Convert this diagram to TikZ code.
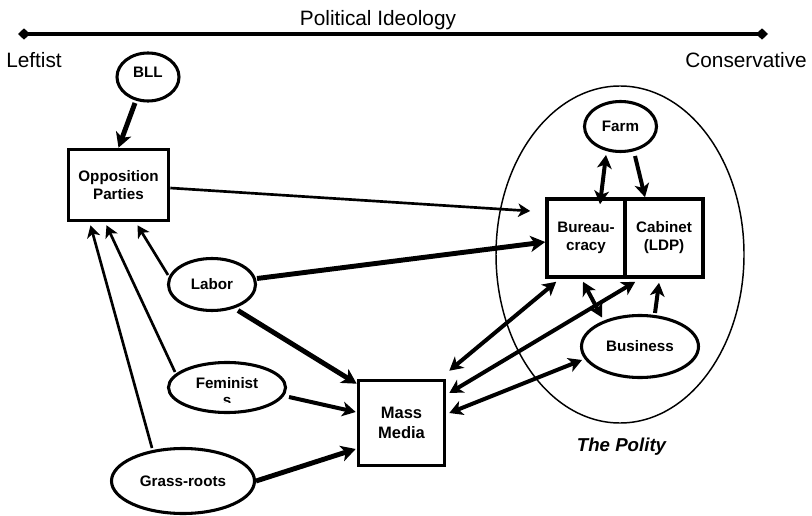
\documentclass[tikz,border=0pt]{standalone}
\usepackage{fontspec}
\setmainfont{Liberation Sans}
\usetikzlibrary{arrows.meta,shapes.geometric,calc}
\begin{document}
\begin{tikzpicture}[x=0.75pt,y=-0.75pt,
  ell/.style={draw,ellipse,line width=2.3pt,inner sep=0pt,font=\bfseries\fontsize{11.4}{13}\selectfont},
  box/.style={draw,rectangle,line width=2.7pt,inner sep=0pt,align=center,font=\bfseries\fontsize{11.4}{13.5}\selectfont},
  lab/.style={inner sep=0pt,font=\bfseries\fontsize{11.4}{13}\selectfont},
  toplab/.style={inner sep=0pt,font=\fontsize{15.6}{18}\selectfont},
  thickarr/.style={line width=3.7pt,-{Stealth[length=11pt,width=12pt,inset=3pt]}},
  thinarr/.style={line width=2pt,-{Stealth[length=9pt,width=10pt,inset=2.5pt]}},
  medarr/.style={line width=3pt,-{Stealth[length=10pt,width=11pt,inset=2.8pt]}},
  dblarr/.style={line width=3pt,{Stealth[length=10pt,width=11pt,inset=2.8pt]}-{Stealth[length=10pt,width=11pt,inset=2.8pt]}}
]
\path[use as bounding box] (0,0) rectangle (812,516);

% ideology axis
\coordinate (ideoL) at (18,34);
\coordinate (ideoR) at (768,34);
\draw[line width=2.3pt,{Diamond[length=9pt,width=8.5pt]}-{Diamond[length=9pt,width=8.5pt]}] (ideoL) -- (ideoR);
\node[toplab,anchor=base] (ideo) at (378,26) {Political Ideology};
\node[toplab,anchor=base west] (left) at (6,67.5) {Leftist};
\node[toplab,anchor=base east] (cons) at (807,67.5) {Conservative};

% the polity
\node[draw,ellipse,line width=1.1pt,minimum width=186pt,minimum height=252.75pt,inner sep=0pt] (polity) at (620,254.5) {};
\node[anchor=base,inner sep=0pt,font=\bfseries\itshape\fontsize{14}{16}\selectfont] (politylab) at (621.5,451) {The Polity};

% nodes
\node[ell,minimum width=46.5pt,minimum height=36pt] (bll) at (148,77) {};
\node[lab] (blltext) at ($(bll)+(0,-4.5)$) {BLL};
\node[box,minimum width=75pt,minimum height=53.25pt] (opp) at (118.5,185) {Opposition\\Parties};
\node[ell,minimum width=65.25pt,minimum height=39pt] (labor) at (212,284.5) {Labor};
\node[ell,minimum width=87.75pt,minimum height=37.5pt] (fem) at (227,387.5) {};
\node[lab,anchor=base] (femtext) at ($(fem)+(0,0.5)$) {Feminist};
\begin{scope}
  \clip (150,360) rectangle (300,402.5);
  \node[lab,anchor=base] (femtexts) at ($(fem)+(0,18)$) {s};
\end{scope}
\node[ell,minimum width=107.25pt,minimum height=48.75pt] (grass) at (183,481) {Grass-roots};
\node[box,minimum width=64.5pt,minimum height=63.75pt,font=\bfseries\fontsize{12.4}{15}\selectfont] (mm) at (401.5,423) {Mass\\Media};
\node[ell,minimum width=54pt,minimum height=37.5pt] (farm) at (620.5,126.5) {Farm};
\node[box,minimum width=58.5pt,minimum height=58.5pt] (bur) at (586,238) {Bureau-\\cracy};
\node[box,minimum width=58.5pt,minimum height=58.5pt] (cab) at (664,238) {Cabinet\\(LDP)};
\node[ell,minimum width=87.75pt,minimum height=46.5pt] (bus) at (640,346.5) {Business};

% connectors
\draw[thickarr] ($(bll)+(-13,26)$) -- (opp.north);
\draw[thinarr] ($(opp.east)+(0,3)$) -- ($(bur.west)+(-15,-27)$);
\draw[thickarr] ($(labor)+(45,-6)$) -- ($(bur.west)+(0,4)$);
\draw[thickarr] ($(labor)+(26,26)$) -- ($(mm.north west)+(0,5)$);
\draw[thinarr] ($(labor)+(-44,-9.5)$) -- ($(opp.south)+(19,3)$);
\draw[thinarr] ($(fem)+(-52,-15.5)$) -- ($(opp.south)+(-12,3)$);
\draw[thinarr] ($(grass)+(-31,-33)$) -- ($(opp.south)+(-28,3)$);
\draw[medarr] ($(fem)+(62,9.5)$) -- ($(mm.west)+(-1,-11)$);
\draw[thickarr] ($(grass)+(73,0)$) -- ($(mm.west)+(-1,26)$);
\draw[dblarr] ($(farm)+(-14.5,28.5)$) -- ($(bur.north)+(14,7)$);
\draw[medarr] ($(farm)+(14.5,29.5)$) -- ($(cab.north)+(-19,0)$);
\draw[medarr] ($(bus)+(15,-33.5)$) -- ($(cab.south)+(-5,4)$);
\draw[dblarr] ($(bus)+(-38,-29)$) -- ($(bur.south)+(-3,3)$);
\draw[dblarr] ($(bur.south west)+(11,3)$) -- ($(mm.north east)+(3,-8)$);
\draw[dblarr] ($(cab.south west)+(12,3)$) -- ($(mm.east)+(3,-30)$);
\draw[dblarr] ($(bus)+(-58,13.5)$) -- ($(mm.east)+(3,-10)$);
\end{tikzpicture}
\end{document}
